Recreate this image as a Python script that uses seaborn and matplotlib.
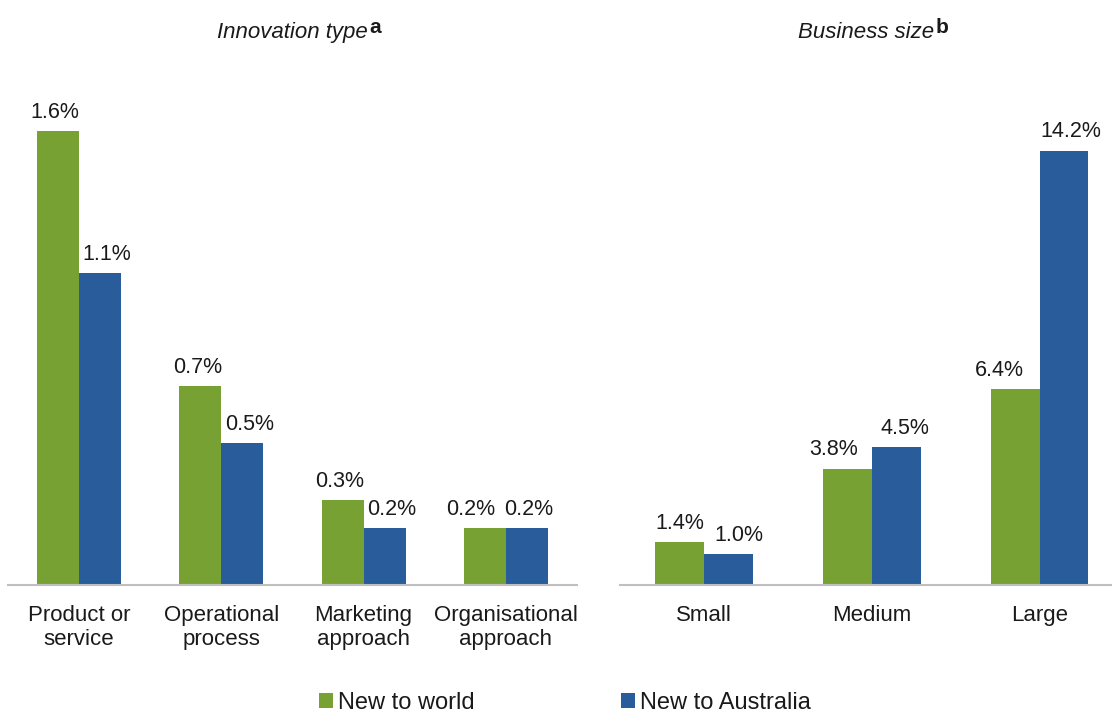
import matplotlib
matplotlib.use("Agg")
import matplotlib.pyplot as plt
import seaborn as sns
import pandas as pd
from matplotlib.patches import Patch

# ---- data ----
innov_types = ["Product or\nservice", "Operational\nprocess", "Marketing\napproach", "Organisational\napproach"]
innov_world = [1.6, 0.7, 0.3, 0.2]
innov_aus = [1.1, 0.5, 0.2, 0.2]

sizes = ["Small", "Medium", "Large"]
size_world = [1.4, 3.8, 6.4]
size_aus = [1.0, 4.5, 14.2]

series_names = ["New to world", "New to Australia"]
colors = ["#77A233", "#285C9A"]

sns.set_theme(style="white")
plt.rcParams["font.family"] = ["Liberation Sans", "DejaVu Sans"]

def make_df(cats, w, a):
    return pd.DataFrame({
        "cat": list(cats) * 2,
        "val": list(w) + list(a),
        "series": [series_names[0]] * len(cats) + [series_names[1]] * len(cats),
    })

W, H = 1112, 713
fig = plt.figure(figsize=(W / 100, H / 100), dpi=100)
base_y = 585
top_y = 60
ax1 = fig.add_axes([8 / W, 1 - base_y / H, (577 - 8) / W, (base_y - top_y) / H])
ax2 = fig.add_axes([620 / W, 1 - base_y / H, (1112 - 620) / W, (base_y - top_y) / H])

pal = dict(zip(series_names, colors))

def draw(ax, cats, w, a, width, xlim, ylim, title, sup, label_dx):
    df = make_df(cats, w, a)
    sns.barplot(data=df, x="cat", y="val", hue="series", order=cats, hue_order=series_names,
                palette=pal, width=width, gap=0, ax=ax, legend=False, saturation=1,
                errorbar=None, linewidth=0)
    for cont, dxs in zip(ax.containers, label_dx):
        anns = ax.bar_label(cont, labels=[f"{v:.1f}%" for v in cont.datavalues], padding=6,
                            fontsize=15.5, color="#1a1a1a")
        for ann, dx in zip(anns, dxs):
            ann.xyann = (dx * 0.72, 6)
    ax.set_xlim(*xlim)
    ax.set_ylim(*ylim)
    ax.set_xlabel("")
    ax.set_ylabel("")
    ax.set_yticks([])
    for s in ["top", "left", "right"]:
        ax.spines[s].set_visible(False)
    ax.spines["bottom"].set_color("#BFBFBF")
    ax.spines["bottom"].set_linewidth(1.5)
    ax.tick_params(axis="x", length=0, pad=14.5, labelsize=16, labelcolor="#1a1a1a")
    t = ax.set_title(title, fontsize=16, fontstyle="italic", color="#1a1a1a", pad=16)
    ax.annotate(sup, xy=(1, 1), xycoords=t, xytext=(1, 3), textcoords="offset points",
                ha="left", va="top", fontsize=15, fontweight="bold", color="#1a1a1a")
    ax.set_facecolor("white")

# label horizontal nudges in pixels (world series, australia series)
draw(ax1, innov_types, innov_world, innov_aus, 0.59, (-0.5, 3.5), (0, 1.85),
     "Innovation type", "a", [[-3, -3, -3, -14], [7, 7, 7, 2]])
draw(ax2, sizes, size_world, size_aus, 0.58, (-0.5, 2.43), (0, 17.16),
     "Business size", "b", [[0, -14, -16], [11, 9, 7]])

handles = [Patch(facecolor=c, edgecolor="none") for c in colors]
fig.legend(handles, series_names, loc="center", bbox_to_anchor=(0.508, 1 - 703 / H), ncol=2,
           frameon=False, fontsize=17, handlelength=0.6, handleheight=0.6,
           handletextpad=0.2, columnspacing=6.2, labelcolor="#1a1a1a")

fig.savefig("out.png", dpi=100, facecolor="white")
